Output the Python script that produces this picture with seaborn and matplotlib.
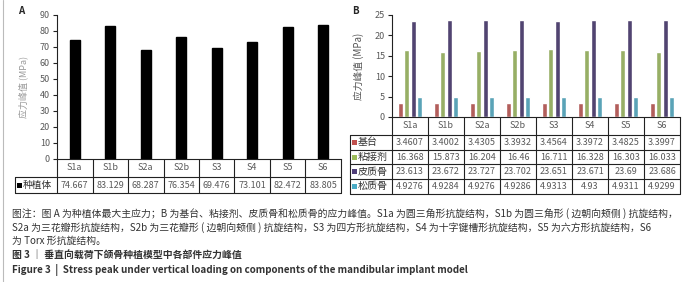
import matplotlib
matplotlib.use("Agg")
import matplotlib.pyplot as plt
from matplotlib.patches import Rectangle
import seaborn as sns
import pandas as pd

sns.set_theme(style="white")
plt.rcParams['font.family'] = ['Noto Sans CJK SC', 'DejaVu Sans']

# data
structures = ["S1a", "S1b", "S2a", "S2b", "S3", "S4", "S5", "S6"]
implant = [74.667, 83.129, 68.287, 76.354, 69.476, 73.101, 82.472, 83.805]

parts = ["基台", "粘接剂", "皮质骨", "松质骨"]
abutment = [3.4607, 3.4002, 3.4305, 3.3932, 3.4564, 3.3972, 3.4825, 3.3997]
cement = [16.368, 15.873, 16.204, 16.46, 16.711, 16.328, 16.303, 16.033]
cortical = [23.613, 23.672, 23.727, 23.702, 23.651, 23.671, 23.69, 23.686]
cancellous = [4.9276, 4.9284, 4.9276, 4.9286, 4.9313, 4.93, 4.9311, 4.9299]
part_colors = ["#c0504d", "#9bbb59", "#4e3d78", "#4bacc6"]

TICK_C = "#595959"
LINE_C = "#222222"


def draw_table(ax, cats, labels, rows, colors, lab_w, h_head, h_row,
               lab_size, px_x, px_y):
    # px_x / px_y: size of one pixel in data-x units and axes-y units
    tr = ax.get_xaxis_transform()
    n = len(cats)
    x0 = -0.5 - lab_w
    y_bot = -h_head - len(rows) * h_row
    kw = dict(transform=tr, clip_on=False, color=LINE_C, lw=0.8)
    for i in range(n + 1):
        ax.plot([i - 0.5, i - 0.5], [0, y_bot], **kw)
    ax.plot([x0, x0], [-h_head, y_bot], **kw)
    for k in range(len(rows) + 1):
        y = -h_head - k * h_row
        ax.plot([x0, n - 0.5], [y, y], **kw)
    for i, c in enumerate(cats):
        ax.text(i, -h_head / 2, c, transform=tr, ha="center", va="center",
                fontsize=6.5, color=TICK_C)
    for k, (lab, vals, col) in enumerate(zip(labels, rows, colors)):
        yc = -h_head - (k + 0.5) * h_row
        ax.add_patch(Rectangle((x0 + 2 * px_x, yc - 2.5 * px_y), 5 * px_x, 5 * px_y,
                               transform=tr, clip_on=False, color=col, lw=0))
        ax.text(x0 + 8 * px_x, yc, lab, transform=tr, ha="left", va="center",
                fontsize=lab_size, color="#333333")
        for i, v in enumerate(vals):
            ax.text(i, yc, f"{v:g}", transform=tr, ha="center", va="center",
                    fontsize=6.5, color=TICK_C)


def style_axis(ax):
    for s in ["top", "right"]:
        ax.spines[s].set_visible(False)
    ax.spines["left"].set_color(LINE_C)
    ax.spines["bottom"].set_color(LINE_C)
    ax.spines["left"].set_linewidth(0.8)
    ax.spines["bottom"].set_linewidth(0.8)
    ax.set_xticks([])
    ax.tick_params(axis="y", left=True, length=3, width=0.8, color=LINE_C,
                   labelsize=6.5, labelcolor=TICK_C, pad=2)
    ax.set_xlabel("")


fig = plt.figure(figsize=(7, 2.82), dpi=100)

# panel A
ax_a = fig.add_axes([57 / 700, 1 - 159 / 282, 284 / 700, 144 / 282])
sns.barplot(x=structures, y=implant, color="black", width=0.29,
            edgecolor="black", ax=ax_a)
ax_a.set_xlim(-0.5, 7.5)
ax_a.set_ylim(0, 90)
ax_a.set_yticks(range(0, 91, 10))
style_axis(ax_a)
ax_a.set_ylabel("应力峰值 (MPa)", fontsize=6.5, color="#9a9a9a", labelpad=8)
draw_table(ax_a, structures, ["种植体"], [implant], ["black"],
           1.19, 18 / 144, 16 / 144, 7, 8 / 284, 1 / 144)
fig.text(18 / 700, 1 - 11 / 282, "A", fontsize=7, weight="bold", va="center")

# panel B
df = pd.DataFrame({
    "结构": structures * 4,
    "部件": [p for p in parts for _ in structures],
    "值": abutment + cement + cortical + cancellous,
})
ax_b = fig.add_axes([392 / 700, 1 - 117 / 282, 288 / 700, 102 / 282])
sns.barplot(data=df, x="结构", y="值", hue="部件", palette=part_colors,
            width=0.7, gap=0.2, legend=False, ax=ax_b)
ax_b.set_xlim(-0.5, 7.5)
ax_b.set_ylim(0, 25)
ax_b.set_yticks(range(0, 26, 5))
style_axis(ax_b)
ax_b.set_ylabel("应力峰值 (MPa)", fontsize=7, color="#555555", labelpad=8)
draw_table(ax_b, structures, parts, [abutment, cement, cortical, cancellous],
           part_colors, 1.17, 18 / 102, 14.7 / 102, 7.2, 8 / 288, 1 / 102)
fig.text(352 / 700, 1 - 11 / 282, "B", fontsize=7, weight="bold", va="center")

# page border line
fig.add_artist(plt.Line2D([3 / 700, 3 / 700], [0, 1], color="#bbbbbb", lw=0.8))

# caption
cap = [
    ("图注：图 A 为种植体最大主应力；B 为基台、粘接剂、皮质骨和松质骨的应力峰值。S1a 为圆三角形抗旋结构，S1b 为圆三角形 ( 边朝向颊侧 ) 抗旋结构，", 214, "normal"),
    ("S2a 为三花瓣形抗旋结构，S2b 为三花瓣形 ( 边朝向颊侧 ) 抗旋结构，S3 为四方形抗旋结构，S4 为十字键槽形抗旋结构，S5 为六方形抗旋结构，S6", 228, "normal"),
    ("为 Torx 形抗旋结构。", 241, "normal"),
    ("图 3 ｜ 垂直向载荷下颌骨种植模型中各部件应力峰值", 256, "bold"),
    ("Figure 3  |  Stress peak under vertical loading on components of the mandibular implant model", 270, "bold"),
]
for txt, y, w in cap:
    fig.text(12 / 700, 1 - y / 282, txt, fontsize=7.1, color="#333333",
             weight=w, va="center", ha="left")

fig.savefig("out.png", dpi=100, facecolor="white")
